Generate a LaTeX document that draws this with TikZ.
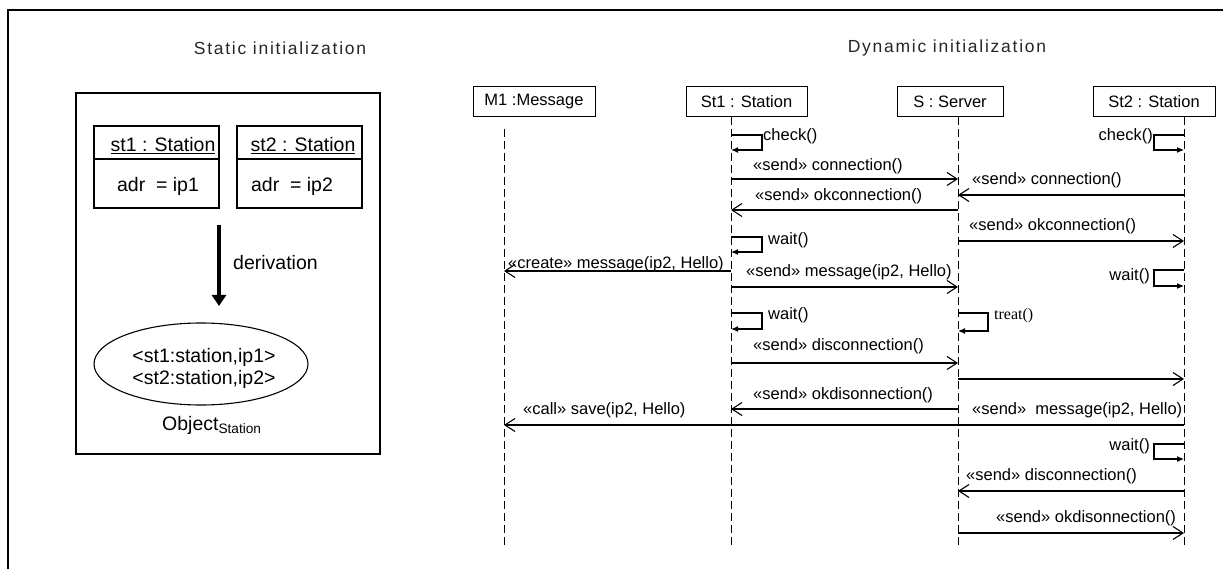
\documentclass[tikz,border=0pt]{standalone}
\usepackage{fontspec}
\setmainfont{Liberation Sans}
\newfontfamily\titlefont[LetterSpace=10]{Liberation Sans}
\newfontfamily\timesfont{Liberation Serif}
\usetikzlibrary{arrows.meta,positioning,shapes.geometric}

\tikzset{
  title/.style={font=\titlefont\fontsize{17.5}{20}\selectfont, text=black!85, inner sep=0pt},
  big/.style={font=\fontsize{19.5}{22}\selectfont, inner sep=0pt},
  seq/.style={font=\fontsize{16.5}{19}\selectfont, inner sep=0pt},
  head/.style={draw, line width=1pt, minimum height=30pt, inner sep=0pt, font=\fontsize{16.5}{19}\selectfont},
  lifeline/.style={line width=0.8pt, dash pattern=on 8pt off 4pt},
  msg/.style={line width=1.1pt, -{Straight Barb[length=10pt,width=13pt]}},
  selfmsg/.style={line width=1.1pt, -{Latex[length=7pt,width=6pt]}},
}

\begin{document}
\begin{tikzpicture}[x=1pt,y=-1pt]
\useasboundingbox (0,0) rectangle (1223,569);

% frame, cut at right and bottom
\draw[line width=2pt] (8,569) -- (8,10.5) -- (1223,10.5);

% titles
\node[title] (stattitle) at (280,48) {Static initialization};
\node[title] (dyntitle) at (947,48) {Dynamic initialization};

% static initialization
\node[draw, line width=1.3pt, minimum width=304pt, minimum height=361pt] (statbox) at (228,273.5) {};
\node[draw, line width=1.1pt, minimum width=125pt, minimum height=82pt] (cls1) at (156.5,167) {};
\node[draw, line width=1.1pt, minimum width=125pt, minimum height=82pt] (cls2) at (299.5,167) {};
\draw[line width=1.1pt] (cls1.west |- 0,159) -- (cls1.east |- 0,159);
\draw[line width=1.1pt] (cls2.west |- 0,159) -- (cls2.east |- 0,159);
\node[big, anchor=base] (name1) at (163,152) {\underline{st1 : Station}};
\node[big, anchor=base] (name2) at (303,152) {\underline{st2 : Station}};
\node[big, anchor=base] (adr1) at (158,192) {adr~ = ip1};
\node[big, anchor=base] (adr2) at (292,192) {adr~ = ip2};

\coordinate (dtop) at (219,225);
\coordinate (dbot) at (219,306);
\draw[line width=4pt, -{Triangle[length=11pt,width=14pt]}] (dtop) -- (dbot);
\node[big, anchor=base west] (derivlbl) at (233,270) {derivation};

\node[draw, ellipse, line width=1.1pt, minimum width=214pt, minimum height=82pt] (objset) at (201,364) {};
\node[big, anchor=base] (pair1) at (204,362) {<st1:station,ip1>};
\node[big, anchor=base] (pair2) at (204,384) {<st2:station,ip2>};
\node[big, anchor=base west] (objlbl) at (162,430) {Object\textsubscript{Station}};

% dynamic initialization: heads and lifelines
\node[head, minimum width=122pt] (m1) at (534,102) {M1 :Message};
\node[head, minimum width=121pt] (st1) at (746.5,102) {St1 : Station};
\node[head, minimum width=106pt] (srv) at (950,102) {S : Server};
\node[head, minimum width=122pt] (st2) at (1154,102) {St2 : Station};

\coordinate (lm) at (504,129);
\coordinate (la) at (731,117);
\coordinate (ls) at (958,117);
\coordinate (lb) at (1184,117);
\draw[lifeline] (lm) -- (lm |- 0,548);
\draw[lifeline] (la) -- (la |- 0,548);
\draw[lifeline] (ls) -- (ls |- 0,548);
\draw[lifeline] (lb) -- (lb |- 0,548);

% check
\draw[selfmsg] (la |- 0,135) -| (762,150) -- (la |- 0,150);
\node[seq, anchor=base west] (chk1) at (763,140.5) {check()};
\draw[selfmsg] (lb |- 0,135) -| (1154,150) -- (lb |- 0,150);
\node[seq, anchor=base east] (chk2) at (1153,140.5) {check()};

% connection
\draw[msg] (la |- 0,179) -- (ls |- 0,179);
\node[seq, anchor=base west] (con1) at (753,170.5) {«send» connection()};
\draw[msg] (lb |- 0,195) -- (ls |- 0,195);
\node[seq, anchor=base west] (con2) at (972,184.5) {«send» connection()};
\draw[msg] (ls |- 0,210) -- (la |- 0,210);
\node[seq, anchor=base west] (okcon1) at (755,200.5) {«send» okconnection()};
\draw[selfmsg] (la |- 0,237) -| (762,252) -- (la |- 0,252);
\node[seq, anchor=base west] (wait1) at (768,244.5) {wait()};
\draw[msg] (ls |- 0,241) -- (lb |- 0,241);
\node[seq, anchor=base west] (okcon2) at (969,230.5) {«send» okconnection()};

% message
\draw[msg] (la |- 0,271) -- (lm |- 0,271);
\node[seq, anchor=base west] (create) at (508,269) {«create» message(ip2, Hello)};
\draw[msg] (la |- 0,287) -- (ls |- 0,287);
\node[seq, anchor=base west] (send1) at (746,276.5) {«send» message(ip2, Hello)};
\draw[selfmsg] (lb |- 0,270) -| (1154,286) -- (lb |- 0,286);
\node[seq, anchor=base east] (wait2) at (1150,280) {wait()};
\draw[selfmsg] (la |- 0,313) -| (762,329) -- (la |- 0,329);
\node[seq, anchor=base west] (wait3) at (768,319) {wait()};
\draw[selfmsg] (ls |- 0,313) -| (988,331) -- (ls |- 0,331);
\node[inner sep=0pt, anchor=base west, font=\timesfont\fontsize{16}{19}\selectfont] (treat) at (994,319) {treat()};

% disconnection
\draw[msg] (la |- 0,363) -- (ls |- 0,363);
\node[seq, anchor=base west] (dis1) at (753,350.5) {«send» disconnection()};
\draw[msg] (ls |- 0,379) -- (lb |- 0,379);
\draw[msg] (ls |- 0,409) -- (la |- 0,409);
\node[seq, anchor=base west] (okdis1) at (753,399.5) {«send» okdisonnection()};
\draw[msg] (lb |- 0,425) -- (lm |- 0,425);
\node[seq, anchor=base west] (save) at (523,414.5) {«call» save(ip2, Hello)};
\node[seq, anchor=base west] (send2) at (972,414.5) {«send»~ message(ip2, Hello)};
\draw[selfmsg] (lb |- 0,444) -| (1154,459) -- (lb |- 0,459);
\node[seq, anchor=base east] (wait4) at (1150,450.5) {wait()};
\draw[msg] (lb |- 0,491) -- (ls |- 0,491);
\node[seq, anchor=base west] (dis2) at (966,480.5) {«send» disconnection()};
\draw[msg] (ls |- 0,533) -- (lb |- 0,533);
\node[seq, anchor=base west] (okdis2) at (996,522.5) {«send» okdisonnection()};
\end{tikzpicture}
\end{document}
